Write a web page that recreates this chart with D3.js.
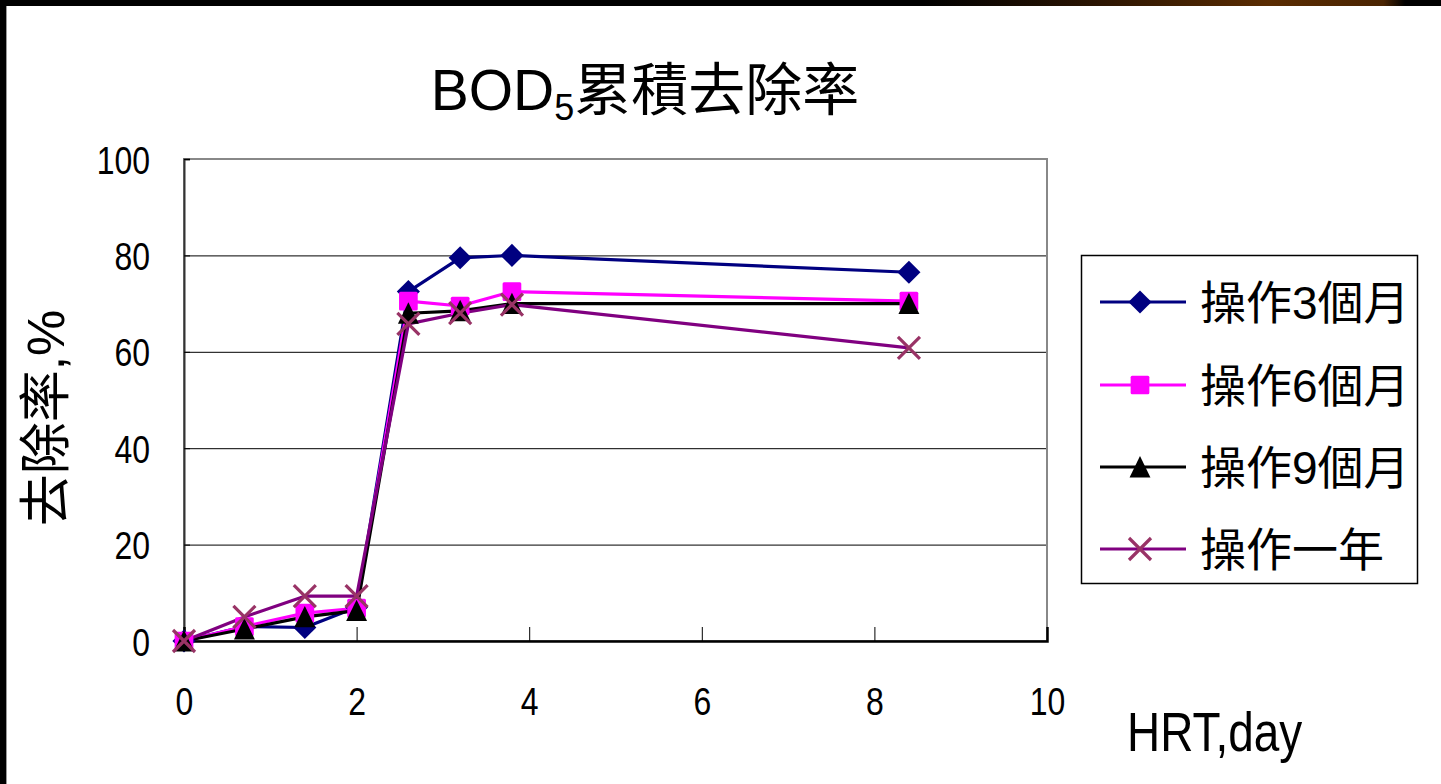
<!DOCTYPE html>
<html>
<head>
<meta charset="utf-8">
<script src="https://cdn.jsdelivr.net/npm/d3@7"></script>
<style>
  html, body { margin: 0; padding: 0; background: #fff; }
  svg { display: block; }
  .num { font-family: "Liberation Sans", Arial, sans-serif; }
  .cjk { font-family: "Liberation Sans", "Noto Sans CJK TC", sans-serif; }
</style>
</head>
<body>
<svg id="chart" width="1441" height="784"></svg>
<script>
// HRT (day) sampling points
const hrt = [0, 0.7, 1.4, 2.0, 2.6, 3.2, 3.8, 8.4];

// cumulative BOD5 removal (%) per operating period
const removal3m = [0, 3, 2.8, 7, 72.5, 79.5, 80, 76.5];
const removal6m = [0, 3, 5.8, 6.8, 70.5, 69.5, 72.5, 70.5];
const removal9m = [0, 2.5, 5, 6.3, 68, 68.5, 70, 70];
const removal1y = [0, 5, 9.3, 9.3, 65.8, 68, 69.8, 60.8];

const seriesNames = ["操作3個月", "操作6個月", "操作9個月", "操作一年"];
const xTicks = [0, 2, 4, 6, 8, 10];
const yTicks = [0, 20, 40, 60, 80, 100];

const series = [
  { name: seriesNames[0], values: removal3m, line: "#000080", fill: "#000080", shape: "diamond" },
  { name: seriesNames[1], values: removal6m, line: "#ff00ff", fill: "#ff00ff", shape: "square" },
  { name: seriesNames[2], values: removal9m, line: "#000000", fill: "#000000", shape: "triangle" },
  { name: seriesNames[3], values: removal1y, line: "#800080", fill: "#993366", shape: "cross" }
];

const svg = d3.select("#chart");
const W = 1441, H = 784;
const NARROW = 0.82; // horizontal squeeze for the condensed numeric labels

// slide frame: dark top band with a warm gradient on the right, dark left edge
const defs = svg.append("defs");
const grad = defs.append("linearGradient").attr("id", "band").attr("x1", 0).attr("x2", 1).attr("y1", 0).attr("y2", 0);
grad.append("stop").attr("offset", "0%").attr("stop-color", "#000");
grad.append("stop").attr("offset", "64%").attr("stop-color", "#000");
grad.append("stop").attr("offset", "76%").attr("stop-color", "#2a1402");
grad.append("stop").attr("offset", "88%").attr("stop-color", "#5a2c02");
grad.append("stop").attr("offset", "96%").attr("stop-color", "#4a2402");
grad.append("stop").attr("offset", "97.5%").attr("stop-color", "#000");
grad.append("stop").attr("offset", "100%").attr("stop-color", "#000");
svg.append("rect").attr("x", 0).attr("y", 0).attr("width", W).attr("height", H).attr("fill", "#fff");
svg.append("rect").attr("x", 0).attr("y", 0).attr("width", W).attr("height", 6).attr("fill", "url(#band)");
svg.append("rect").attr("x", 0).attr("y", 0).attr("width", 6).attr("height", H).attr("fill", "#000");
svg.append("line").attr("x1", 6.5).attr("x2", 6.5).attr("y1", 6).attr("y2", H).attr("stroke", "#999").attr("stroke-width", 1);

// plot area
const plot = { left: 184, right: 1047, top: 159, bottom: 641 };
const x = d3.scaleLinear().domain([0, 10]).range([plot.left, plot.right]);
const y = d3.scaleLinear().domain([0, 100]).range([plot.bottom, plot.top]);

// gridlines
svg.append("g")
  .selectAll("line")
  .data(yTicks.filter(v => v > 0 && v < 100))
  .join("line")
  .attr("x1", plot.left).attr("x2", plot.right)
  .attr("y1", d => y(d) + 0.5).attr("y2", d => y(d) + 0.5)
  .attr("stroke", "#000").attr("stroke-width", 1);

// plot border (top / right in grey)
svg.append("rect")
  .attr("x", plot.left).attr("y", plot.top)
  .attr("width", plot.right - plot.left).attr("height", plot.bottom - plot.top)
  .attr("fill", "none").attr("stroke", "#888").attr("stroke-width", 2);

// y axis
const yAxis = d3.axisLeft(y).tickValues(yTicks).tickSize(-6).tickPadding(34).tickFormat(d3.format("d"));
const gy = svg.append("g").attr("transform", `translate(${plot.left},0)`).call(yAxis);
gy.select(".domain").attr("stroke", "#333").attr("stroke-width", 2);
gy.selectAll(".tick line").attr("stroke", "#000");
gy.selectAll("text")
  .attr("class", "num").attr("font-size", 39).attr("fill", "#000")
  .attr("dy", "0.36em")
  .attr("x", -34 / NARROW)
  .attr("transform", `scale(${NARROW},1)`);

// x axis
const xAxis = d3.axisBottom(x).tickValues(xTicks).tickSize(-14).tickPadding(74).tickFormat(d3.format("d"));
const gx = svg.append("g").attr("transform", `translate(0,${plot.bottom})`).call(xAxis);
gx.select(".domain").attr("stroke", "#000").attr("stroke-width", 2.5);
gx.selectAll(".tick line").attr("stroke", "#000");
gx.selectAll("text")
  .attr("class", "num").attr("font-size", 39).attr("fill", "#000")
  .attr("dy", "0")
  .attr("transform", `scale(${NARROW},1)`);

// marker drawing
function drawMarker(g, shape, color, size) {
  const r = size / 2;
  if (shape === "cross") {
    g.append("path")
      .attr("d", `M${-r},${-r}L${r},${r}M${-r},${r}L${r},${-r}`)
      .attr("stroke", color).attr("stroke-width", 3.2).attr("fill", "none");
  } else if (shape === "diamond") {
    const d = r * 1.05;
    g.append("path").attr("d", `M0,${-d}L${d},0L0,${d}L${-d},0Z`).attr("fill", color);
  } else if (shape === "square") {
    const s = r * 0.85;
    g.append("rect").attr("x", -s).attr("y", -s).attr("width", 2 * s).attr("height", 2 * s)
      .attr("rx", 1.5).attr("fill", color);
  } else {
    const t = r * 0.95;
    g.append("path").attr("d", `M0,${-t * 1.05}L${t},${t}L${-t},${t}Z`).attr("fill", color);
  }
}

const line = d3.line().x(d => x(d[0])).y(d => y(d[1]));

series.forEach(s => {
  const pts = hrt.map((h, i) => [h, s.values[i]]);
  svg.append("path")
    .datum(pts)
    .attr("d", line)
    .attr("fill", "none")
    .attr("stroke", s.line)
    .attr("stroke-width", 3.2)
    .attr("stroke-linejoin", "round");
});
series.forEach(s => {
  hrt.forEach((h, i) => {
    const g = svg.append("g").attr("transform", `translate(${x(h)},${y(s.values[i])})`);
    drawMarker(g, s.shape, s.fill, 22);
  });
});

// title with subscript
const title = svg.append("text")
  .attr("x", 645).attr("y", 110)
  .attr("text-anchor", "middle")
  .attr("class", "cjk")
  .attr("font-size", 57)
  .attr("fill", "#000");
title.append("tspan").text("BOD");
title.append("tspan").attr("font-size", 36).attr("dy", 10).text("5");
title.append("tspan").attr("dy", -10).text("累積去除率");

// axis titles
svg.append("text")
  .attr("transform", "translate(64,418) rotate(-90)")
  .attr("text-anchor", "middle")
  .attr("class", "cjk")
  .attr("font-size", 52)
  .attr("fill", "#000")
  .text("去除率,%");

svg.append("text")
  .attr("x", 1127 / NARROW).attr("y", 751)
  .attr("transform", `scale(${NARROW},1)`)
  .attr("class", "num")
  .attr("font-size", 56)
  .attr("fill", "#000")
  .text("HRT,day");

// legend
const legend = { x: 1081, y: 255, w: 336, h: 328 };
svg.append("rect")
  .attr("x", legend.x + 0.5).attr("y", legend.y + 0.5)
  .attr("width", legend.w).attr("height", legend.h)
  .attr("fill", "#fff").attr("stroke", "#000").attr("stroke-width", 1.5);

const rowY = [302, 385, 467, 549];
series.forEach((s, i) => {
  const g = svg.append("g").attr("transform", `translate(0,${rowY[i]})`);
  g.append("line").attr("x1", 1100).attr("x2", 1186).attr("y1", 0).attr("y2", 0)
    .attr("stroke", s.line).attr("stroke-width", 3.2);
  const mg = g.append("g").attr("transform", "translate(1140,0)");
  drawMarker(mg, s.shape, s.fill, 22);
  g.append("text")
    .attr("x", 1200).attr("y", 0).attr("dy", "0.36em")
    .attr("class", "cjk")
    .attr("font-size", 46)
    .attr("fill", "#000")
    .text(s.name);
});
</script>
</body>
</html>
